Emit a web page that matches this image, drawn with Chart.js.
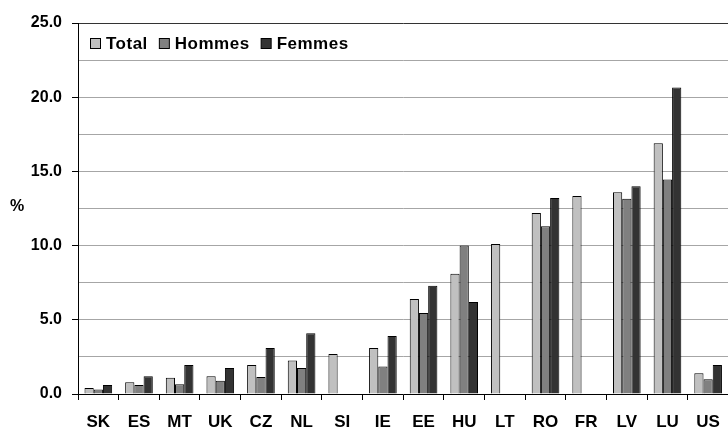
<!DOCTYPE html>
<html>
<head>
<meta charset="utf-8">
<script src="https://cdn.jsdelivr.net/npm/chart.js@4/dist/chart.umd.min.js"></script>
<style>
html,body{margin:0;padding:0;background:#fff;overflow:hidden;width:728px;height:428px;}
#wrap{position:absolute;left:0;top:0;width:732px;height:428px;}
</style>
</head>
<body>
<div id="wrap"><canvas id="c" width="732" height="428"></canvas></div>
<script>
const categories = ["SK","ES","MT","UK","CZ","NL","SI","IE","EE","HU","LT","RO","FR","LV","LU","US"];
const totalValues  = [0.4, 0.8, 1.1, 1.2, 1.95, 2.25, 2.7, 3.1, 6.4, 8.1, 10.1, 12.2, 13.35, 13.6, 16.9, 1.4];
const hommesValues = [0.3, 0.6, 0.65, 0.9, 1.15, 1.75, null, 1.85, 5.45, 10.0, null, 11.3, null, 13.15, 14.45, 1.0];
const femmesValues = [0.6, 1.2, 1.95, 1.75, 3.1, 4.1, null, 3.9, 7.3, 6.2, null, 13.2, null, 14.0, 20.65, 1.95];
const seriesNames = ["Total","Hommes","Femmes"];
const seriesColors = ["#c0c0c0","#808080","#333333"];
const yTicks = [0, 5, 10, 15, 20, 25];
const yAxisLabel = "%";

const FONT = "'Liberation Sans', Arial, sans-serif";

const yTitlePlugin = {
  id: 'yTitle',
  afterDraw(chart) {
    const ctx = chart.ctx;
    ctx.save();
    ctx.font = "bold 16px " + FONT;
    ctx.fillStyle = "#000";
    ctx.textAlign = "center";
    ctx.textBaseline = "middle";
    ctx.fillText(yAxisLabel, 17, 207);
    ctx.restore();
  }
};

const inlineLegendPlugin = {
  id: 'inlineLegend',
  afterDatasetsDraw(chart) {
    const ctx = chart.ctx;
    const area = chart.chartArea;
    ctx.save();
    ctx.font = "bold 17px " + FONT;
    if ('letterSpacing' in ctx) ctx.letterSpacing = '0.5px';
    ctx.textBaseline = "middle";
    ctx.textAlign = "left";
    let x = area.left + 12;
    const cy = area.top + 20;
    const box = 10;
    chart.data.datasets.forEach((ds) => {
      ctx.fillStyle = ds.backgroundColor;
      ctx.fillRect(x + 0.5, cy - box / 2 + 0.5, box, box);
      ctx.strokeStyle = '#000';
      ctx.lineWidth = 1;
      ctx.strokeRect(x + 0.5, cy - box / 2 + 0.5, box, box);
      const tx = x + box + 6;
      ctx.fillStyle = '#000';
      ctx.fillText(ds.label, tx, cy + 1);
      x = tx + ctx.measureText(ds.label).width + 11;
    });
    ctx.restore();
  }
};

new Chart(document.getElementById('c'), {
  type: 'bar',
  data: {
    labels: categories,
    datasets: [
      {label: seriesNames[0], data: totalValues, backgroundColor: seriesColors[0], borderColor: '#000', borderWidth: 1},
      {label: seriesNames[1], data: hommesValues, backgroundColor: seriesColors[1], borderColor: '#000', borderWidth: 1},
      {label: seriesNames[2], data: femmesValues, backgroundColor: seriesColors[2], borderColor: '#000', borderWidth: 1}
    ]
  },
  plugins: [yTitlePlugin, inlineLegendPlugin],
  options: {
    responsive: false,
    animation: false,
    devicePixelRatio: 1,
    layout: {padding: {top: 23, right: 2, left: 0, bottom: 0}},
    datasets: {bar: {categoryPercentage: 0.68, barPercentage: 1.0}},
    plugins: {
      tooltip: {enabled: false},
      legend: {display: false}
    },
    scales: {
      x: {
        grid: {offset: true, drawOnChartArea: false, color: '#000', tickLength: 6},
        border: {color: '#000', width: 1},
        ticks: {color: '#000', font: {family: FONT, size: 17, weight: 'bold'}, padding: 12, maxRotation: 0, autoSkip: false},
        afterFit(s) { s.height = 34; }
      },
      y: {
        min: 0, max: 25,
        afterBuildTicks(s) {
          const t = [];
          for (let v = 0; v <= 25; v += 2.5) t.push({value: v});
          s.ticks = t;
        },
        grid: {
          color: (c) => c.tick && c.tick.value === 25 ? '#333' : '#a6a6a6',
          tickColor: (c) => c.tick && yTicks.includes(c.tick.value) ? '#000' : 'rgba(0,0,0,0)',
          tickLength: 6
        },
        border: {color: '#000', width: 1},
        ticks: {
          color: '#000',
          font: {family: FONT, size: 16, weight: 'bold'},
          padding: 10,
          callback: (v) => yTicks.includes(v) ? v.toFixed(1) : ''
        },
        afterFit(s) { s.width = 78; }
      }
    }
  }
});
</script>
</body>
</html>
